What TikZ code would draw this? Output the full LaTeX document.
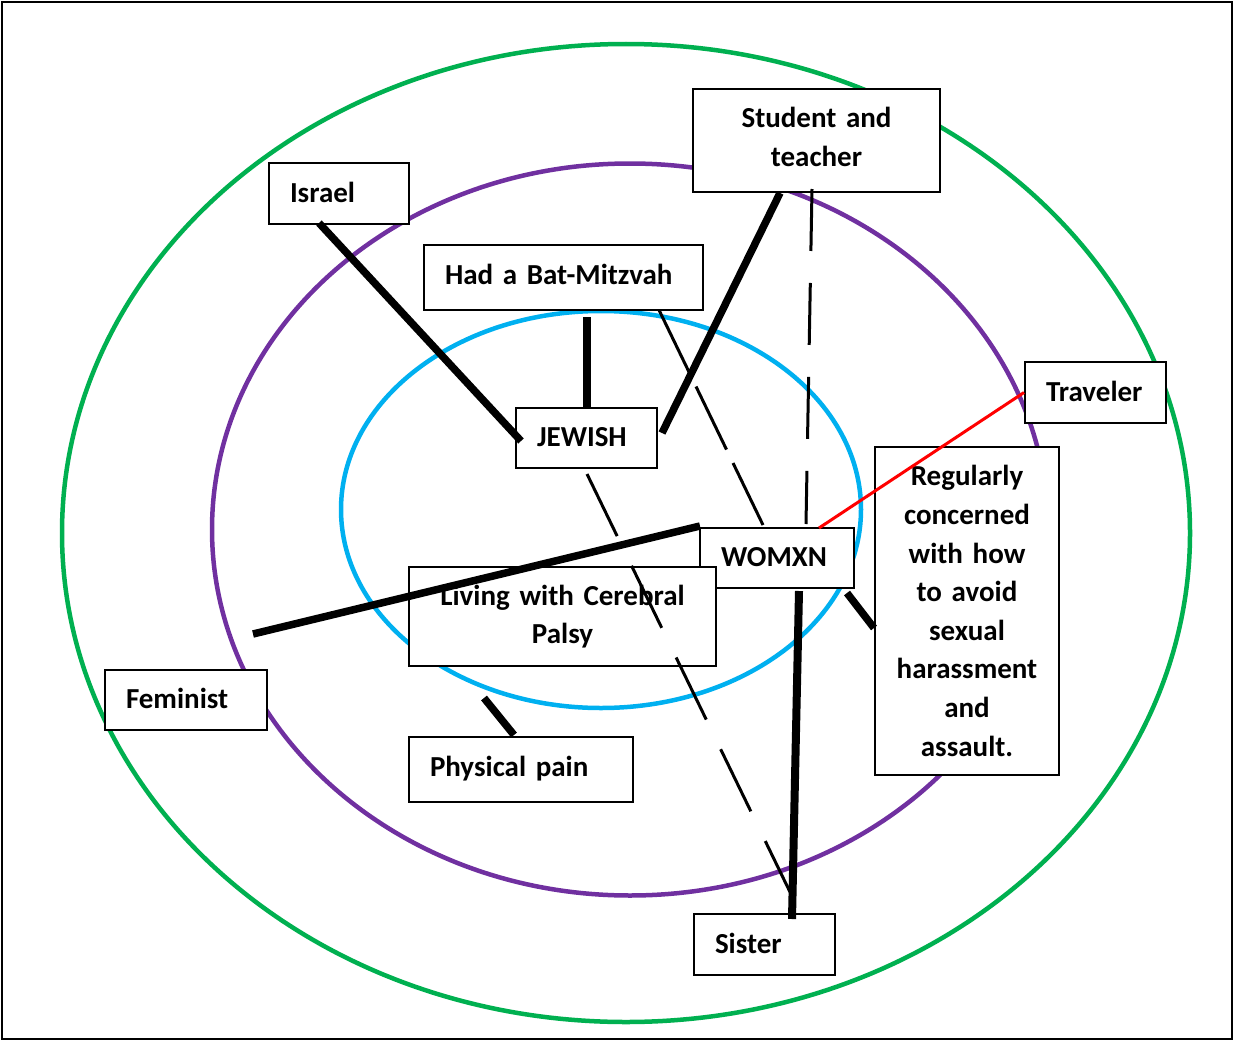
\documentclass[tikz,border=0pt]{standalone}
\usepackage{fontspec}
\setmainfont{Carlito}
\usetikzlibrary{calc}
\definecolor{ogreen}{HTML}{00B050}
\definecolor{opurple}{HTML}{7030A0}
\definecolor{oblue}{HTML}{00B0F0}
\definecolor{ored}{HTML}{FF0000}
\begin{document}
\begin{tikzpicture}[x=1pt,y=-1pt,
  box/.style={draw=black,line width=2pt,fill=white,inner xsep=21pt,inner ysep=0pt,
    font=\bfseries\fontsize{29}{38.6}\selectfont},
  onebox/.style={box,align=left,text height=17pt,text depth=0pt},
  multibox/.style={box,align=center},
  thickline/.style={line width=7.5pt,black},
  dashline/.style={line width=3pt,black},
  ring/.style={line width=4.5pt}]
\useasboundingbox (0,0) rectangle (1234,1041);
\draw[line width=2pt] (2,2) rectangle (1232,1039);
% rings
\draw[ring,ogreen] (626,533) ellipse [x radius=564, y radius=489];
\draw[ring,opurple] (630,529.5) ellipse [x radius=418, y radius=366];
\draw[ring,oblue] (601,509.5) ellipse [x radius=260, y radius=198.5];
% boxes
\node[onebox,minimum width=140pt,minimum height=61pt,text width=98pt] (israel) at (339,193.5) {Israel};
\node[multibox,text depth=46pt,minimum width=247pt,minimum height=103pt,text width=205pt] (student) at (816.5,140.5) {Student and\\teacher};
\node[onebox,text height=13pt,minimum width=279pt,minimum height=65pt,text width=237pt] (bat) at (563.5,277.5) {Had a Bat-Mitzvah};
\node[onebox,minimum width=141pt,minimum height=60pt,text width=99pt] (jewish) at (586.5,438) {JEWISH};
\node[onebox,minimum width=154pt,minimum height=60pt,text width=112pt] (womxn) at (777,558) {WOMXN};
\node[multibox,minimum width=307pt,minimum height=99pt,text width=265pt] (living) at (562.5,616.5) {Living with Cerebral\\Palsy};
\node[onebox,minimum width=141pt,minimum height=61pt,text width=99pt] (traveler) at (1095.5,392.5) {Traveler};
\node[multibox,minimum width=184pt,minimum height=328pt,text width=142pt] (regular) at (967,611) {Regularly\\concerned\\with how\\to avoid\\sexual\\harassment\\and\\assault.};
\node[onebox,minimum width=162pt,minimum height=60pt,text width=120pt] (feminist) at (186,700) {Feminist};
\node[onebox,text height=13pt,minimum width=224pt,minimum height=65pt,text width=182pt] (pain) at (521,769.5) {Physical pain};
\node[onebox,minimum width=141pt,minimum height=61pt,text width=99pt] (sister) at (764.5,944.5) {Sister};
% connectors
\draw[thickline] ([shift={(51,-2)}]israel.south west) -- ([shift={(6,3)}]jewish.west);
\draw[thickline] ([shift={(23.5,6)}]bat.south) -- ([shift={(0.5,0)}]jewish.north);
\draw[thickline] ([shift={(-36.5,0)}]student.south) -- ([shift={(4,-5)}]jewish.east);
\draw[dashline,dash pattern=on 62pt off 32pt] ([shift={(-4.5,-4)}]student.south) -- ([shift={(29,-3)}]womxn.north);
\draw[dashline,dash pattern=on 70pt off 15pt] ([shift={(-45,-1)}]bat.south east) -- ([shift={(-14,-2)}]womxn.north);
\draw[dashline,dash pattern=on 69pt off 33pt] ([shift={(0.5,5)}]jewish.south) -- ([shift={(25.5,-21)}]sister.north);
\draw[thickline] ([shift={(67,-35)}]feminist.north) -- ([shift={(1,-1)}]womxn.north west);
\draw[line width=3pt,ored] (traveler.west) -- ([shift={(42,1)}]womxn.north);
\draw[thickline,line width=8pt] ([shift={(22,2)}]womxn.south) -- ([shift={(27.5,6)}]sister.north);
\draw[thickline] ([shift={(-8,4)}]womxn.south east) -- ([shift={(0,17)}]regular.west);
\draw[thickline] ([shift={(-78.5,31)}]living.south) -- ([shift={(-7,-1)}]pain.north);
\end{tikzpicture}
\end{document}
